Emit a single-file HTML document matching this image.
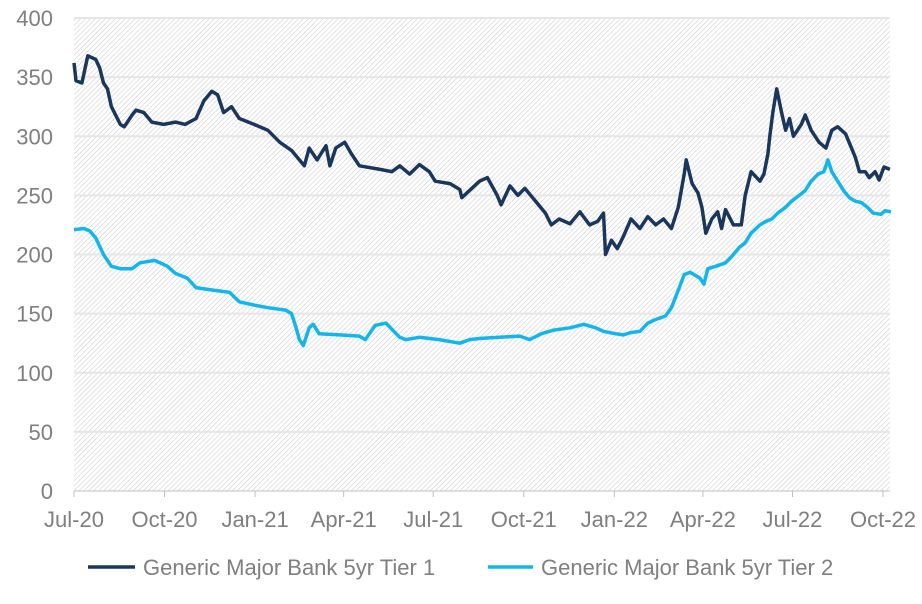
<!DOCTYPE html>
<html><head><meta charset="utf-8"><style>
body{margin:0;background:#fff;font-family:"Liberation Sans",sans-serif}
svg text{font-family:"Liberation Sans",sans-serif;fill:#7f7f7f;font-size:22px}
</style></head><body>
<svg id="chart" width="922" height="599" xmlns="http://www.w3.org/2000/svg">
<defs><pattern id="hatch" patternUnits="userSpaceOnUse" width="3.5" height="3.5" patternTransform="rotate(45)"><rect width="3.5" height="3.5" fill="#fff"/><line x1="0" y1="0" x2="0" y2="3.5" stroke="#cfcfcf" stroke-width="1.2"/></pattern></defs>
<rect x="74" y="18" width="816" height="473" fill="url(#hatch)"/>
<g id="grid"></g><g id="yt"></g><g id="xt"></g><g id="series"></g>
<g>
<line x1="88" y1="567" x2="135" y2="567" stroke="#1b365d" stroke-width="3.5"/>
<text x="143" y="575">Generic Major Bank 5yr Tier 1</text>
<line x1="488" y1="567" x2="533" y2="567" stroke="#13b5ea" stroke-width="3.5"/>
<text x="541" y="575">Generic Major Bank 5yr Tier 2</text>
</g>
</svg>
<script>
const yTicks=[0,50,100,150,200,250,300,350,400];
const xTickLabels=["Jul-20","Oct-20","Jan-21","Apr-21","Jul-21","Oct-21","Jan-22","Apr-22","Jul-22","Oct-22"];
const xTickDays=[0,92,184,274,365,457,549,639,730,822];
const t1Days=[0,2,8,14,22,26,30,34,38,47,51,59,63,71,79,91,103,113,124,132,140,146,152,160,168,183,197,209,221,229,234,239,247,256,260,266,275,282,290,311,323,331,341,351,361,367,382,392,394,412,420,430,434,443,451,458,469,479,485,493,504,514,524,532,538,540,546,552,558,566,575,583,591,599,607,614,620,622,628,634,638,642,648,654,658,662,670,678,682,688,697,701,705,707,710,714,719,723,727,731,739,743,749,757,764,770,776,784,790,794,798,804,808,814,818,823,829];
const t1Vals=[362,347,345,368,365,358,345,340,325,310,308,318,322,320,312,310,312,310,315,330,338,335,320,325,315,310,305,295,288,280,275,290,280,292,275,290,295,285,275,272,270,275,268,276,270,262,260,255,248,262,265,250,242,258,250,256,245,235,225,230,226,236,225,228,235,200,212,205,215,230,222,232,225,230,222,240,268,280,260,252,240,218,230,236,222,238,225,225,250,270,262,268,285,300,320,340,320,305,315,300,310,318,305,295,290,305,308,302,290,282,270,270,265,270,263,274,272];
const t2Days=[0,10,16,22,30,38,47,59,67,82,95,103,115,124,140,158,168,184,197,215,221,225,229,233,239,243,249,270,290,296,306,317,325,331,337,351,371,392,402,412,432,453,463,475,487,504,518,530,538,550,558,566,575,583,591,601,607,615,620,626,636,640,644,652,662,668,676,682,688,697,703,709,715,723,729,737,743,749,756,762,766,770,776,782,788,794,800,806,812,820,824,830];
const t2Vals=[221,222,220,214,200,190,188,188,193,195,190,184,180,172,170,168,160,157,155,153,150,140,128,123,138,141,133,132,131,128,140,142,135,130,128,130,128,125,128,129,130,131,128,133,136,138,141,138,135,133,132,134,135,142,145,148,155,172,183,185,180,175,188,190,193,198,206,210,218,225,228,230,235,240,245,250,254,262,268,270,280,270,262,254,248,245,244,240,235,234,237,236];
const X0=74,XW=809,Y0=491,YH=473;
const xs=d=>X0+d*XW/822, ys=v=>Y0-v*YH/400;
const NS="http://www.w3.org/2000/svg";
function mk(tag,attrs,parent){const e=document.createElementNS(NS,tag);for(const k in attrs)e.setAttribute(k,attrs[k]);document.getElementById(parent).appendChild(e);return e;}
yTicks.forEach(v=>{
 if(v>0){const g=mk('line',{x1:74,x2:890,y1:ys(v),y2:ys(v),stroke:'#e6e6e6','stroke-width':2},'grid');
 
 }
 const t=mk('text',{x:53,y:ys(v)+8,'text-anchor':'end'},'yt');t.textContent=v;
 
 
});
const ax=mk('line',{x1:74,x2:890,y1:491,y2:491,stroke:'#bfbfbf','stroke-width':1},'xt');


xTickLabels.forEach((l,i)=>{
 const x=xs(xTickDays[i]);
 const tk=mk('line',{x1:x,x2:x,y1:491,y2:497,stroke:'#bfbfbf'},'xt');
 
 
 const t=mk('text',{x:x,y:527,'text-anchor':'middle'},'xt');t.textContent=l;
 
 
});
function line(days,vals,color,name){
 const d=days.map((dd,i)=>(i?'L':'M')+xs(dd).toFixed(1)+','+ys(vals[i]).toFixed(1)).join('');
 const p=mk('path',{d:d,fill:'none',stroke:color,'stroke-width':3.5,'stroke-linejoin':'round'},'series');
 
 
}
line(t2Days,t2Vals,'#13b5ea','tier2-line');
line(t1Days,t1Vals,'#1b365d','tier1-line');
</script>
</body></html>
